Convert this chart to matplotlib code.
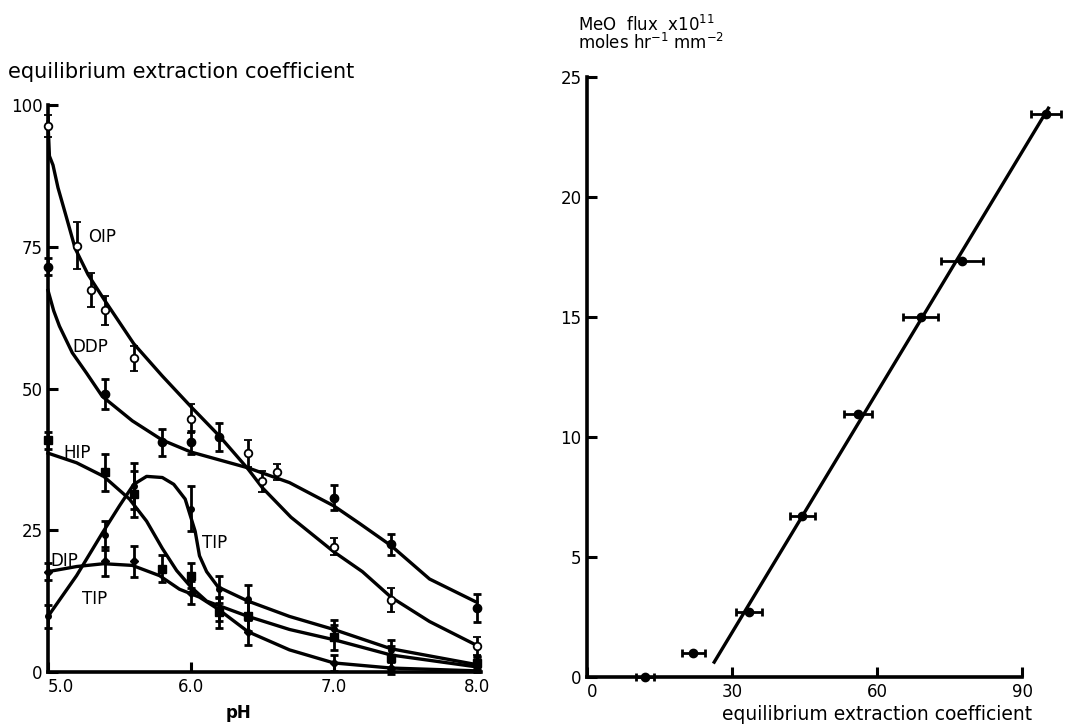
import matplotlib
matplotlib.use("Agg")
import matplotlib.pyplot as plt

plt.rcParams['font.family'] = ['DejaVu Sans']

# ---------------- left panel data (pH vs equilibrium extraction coefficient) -------------
ph_oip = [5.0, 5.2, 5.3, 5.4, 5.6, 6.0, 6.4, 6.5, 6.6, 7.0, 7.4, 8.0]
oip = [96.3, 75.2, 67.3, 63.8, 55.3, 44.7, 38.6, 33.6, 35.3, 22.1, 12.7, 4.6]
oip_err = [2.0, 4.2, 3.0, 2.6, 2.2, 2.5, 2.4, 1.8, 1.4, 1.5, 2.1, 1.6]
ph_oip_c = [5.0, 5.01, 5.035, 5.07, 5.13, 5.19, 5.28, 5.39, 5.6, 5.8, 6.0, 6.2, 6.4, 6.5,
            6.7, 7.0, 7.2, 7.4, 7.67, 8.0]
oip_c = [97, 91, 89.4, 85.4, 80.1, 74.7, 70.1, 65.8, 57.9, 52.2, 46.8, 41.6, 35.8, 32.5,
         27.3, 21.2, 17.7, 13.2, 8.9, 4.7]

ph_ddp = [5.0, 5.4, 5.8, 6.0, 6.2, 7.0, 7.4, 8.0]
ddp = [71.5, 49.0, 40.5, 40.5, 41.4, 30.7, 22.5, 11.3]
ddp_err = [1.5, 2.6, 2.4, 2.0, 2.5, 2.2, 1.8, 2.4]
ph_ddp_c = [5.0, 5.04, 5.08, 5.17, 5.27, 5.38, 5.59, 5.8, 6.0, 6.4, 6.69, 7.0, 7.18, 7.4,
            7.67, 8.0]
ddp_c = [67.3, 63.7, 61.0, 56.3, 52.7, 48.6, 44.3, 40.9, 38.8, 36.0, 33.4, 29.3, 26.2,
         22.3, 16.4, 12.3]

ph_hip = [5.0, 5.4, 5.6, 5.8, 6.0, 6.2, 6.4, 7.0, 7.4, 8.0]
hip = [40.9, 35.2, 31.4, 18.2, 17.0, 10.5, 9.8, 6.1, 2.5, 1.6]
hip_err = [1.5, 3.3, 4.0, 2.4, 2.2, 2.7, 2.5, 2.2, 2.0, 1.2]
ph_hip_c = [5.0, 5.2, 5.39, 5.57, 5.69, 5.8, 5.9, 6.0, 6.11, 6.4, 6.69, 7.0, 7.4, 8.0]
hip_c = [38.6, 36.9, 34.5, 30.5, 26.6, 21.8, 17.9, 15.0, 12.5, 9.8, 7.5, 5.7, 3.0, 0.9]

ph_dip = [5.0, 5.4, 5.6, 6.0, 6.2, 6.4, 7.0, 7.4, 8.0]
dip = [17.7, 19.5, 19.5, 14.0, 11.0, 7.0, 1.6, 0.7, 0.8]
dip_err = [1.5, 2.6, 2.8, 2.0, 2.0, 2.2, 1.4, 1.0, 0.8]
ph_dip_c = [5.0, 5.2, 5.39, 5.59, 5.78, 5.92, 6.06, 6.19, 6.4, 6.69, 7.0, 7.4, 8.0]
dip_c = [17.7, 18.6, 19.1, 18.8, 17.0, 14.6, 13.2, 11.1, 7.1, 3.9, 1.6, 0.7, 0.2]

ph_tip = [5.0, 5.4, 5.6, 6.0, 6.2, 6.4, 7.0, 7.4, 8.0]
tip = [9.8, 24.1, 32.8, 28.8, 14.6, 12.9, 7.5, 3.9, 1.5]
tip_err = [2.0, 2.5, 4.0, 4.0, 2.4, 2.5, 1.6, 1.8, 1.2]
ph_tip_c = [5.0, 5.2, 5.38, 5.5, 5.6, 5.69, 5.8, 5.88, 5.96, 6.03, 6.06, 6.11, 6.19, 6.4,
            6.69, 7.0, 7.4, 8.0]
tip_c = [9.8, 17.0, 24.5, 29.3, 33.1, 34.5, 34.3, 33.1, 30.5, 24.8, 20.5, 17.7, 15.0, 12.5,
         9.8, 7.5, 4.1, 1.3]

left_xticks = [5.0, 6.0, 7.0, 8.0]
left_xticklabels = ['5.0', '6.0', '7.0', '8.0']
left_yticks = [0, 25, 50, 75, 100]
left_yticklabels = ['0', '25', '50', '75', '100']

# ---------------- right panel data (extraction coefficient vs MeO flux) ------------------
eec = [12, 22, 33.5, 44.5, 56, 69, 77.5, 94.8]
flux = [0.0, 1.0, 2.7, 6.7, 10.95, 15.0, 17.35, 23.45]
eec_err = [1.8, 2.4, 2.7, 2.6, 2.9, 3.6, 4.4, 3.1]
fit_x = [26.3, 95.4]
fit_y = [0.62, 23.7]
right_xticks = [0, 30, 60, 90]
right_xticklabels = ['0', '30', '60', '90']
right_yticks = [0, 5, 10, 15, 20, 25]
right_yticklabels = ['0', '5', '10', '15', '20', '25']

W, H = 1070, 728
fig = plt.figure(figsize=(W / 100, H / 100), dpi=100)
fig.patch.set_facecolor('white')

LW = 2.4
eb_kw = dict(color='black', ecolor='black', elinewidth=2.0, capsize=3, capthick=2.0,
             linestyle='none', clip_on=False, zorder=4)

# ---------------- left axes ----------------
axL = fig.add_axes([48 / W, 1 - 672 / H, 443 / W, 567 / H])
axL.set_xlim(5.0, 8.1)
axL.set_ylim(0, 100)

for xs, ys in [(ph_oip_c, oip_c), (ph_ddp_c, ddp_c), (ph_hip_c, hip_c),
               (ph_dip_c, dip_c), (ph_tip_c, tip_c)]:
    axL.plot(xs, ys, color='black', lw=LW, solid_joinstyle='round', zorder=3, clip_on=False)

axL.errorbar(ph_oip, oip, yerr=oip_err, fmt='o', ms=5.5, mfc='white', mec='black', mew=1.3, **eb_kw)
axL.errorbar(ph_ddp, ddp, yerr=ddp_err, fmt='o', ms=6, mfc='black', mec='black', **eb_kw)
axL.errorbar(ph_hip, hip, yerr=hip_err, fmt='s', ms=5.5, mfc='black', mec='black', **eb_kw)
axL.errorbar(ph_dip, dip, yerr=dip_err, fmt='D', ms=4, mfc='black', mec='black', **eb_kw)
axL.errorbar(ph_tip, tip, yerr=tip_err, fmt='o', ms=4, mfc='black', mec='black', **eb_kw)

lab_kw = dict(fontsize=12, color='black', va='center', ha='left', zorder=6)
axL.text(5.28, 76.7, 'OIP', **lab_kw)
axL.text(5.17, 57.4, 'DDP', **lab_kw)
axL.text(5.11, 38.6, 'HIP', **lab_kw)
axL.text(5.02, 19.5, 'DIP', **lab_kw)
axL.text(5.24, 12.9, 'TIP', **lab_kw)
axL.text(6.08, 22.7, 'TIP', **lab_kw)

axL.set_xticks(left_xticks)
axL.set_xticklabels(left_xticklabels)
axL.get_xticklabels()[0].set_ha('left')
axL.set_yticks(left_yticks)
axL.set_yticklabels(left_yticklabels)
axL.tick_params(direction='in', length=7, width=2.2, labelsize=12, pad=4)
for s in ['top', 'right']:
    axL.spines[s].set_visible(False)
axL.spines['left'].set_linewidth(2.6)
axL.spines['bottom'].set_linewidth(2.6)
axL.spines['left'].set_bounds(0, 100)
axL.spines['bottom'].set_bounds(5.0, 8.03)
axL.set_xlabel('pH', fontsize=12, fontweight='bold')
axL.xaxis.set_label_coords(0.431, -(713 - 672) / 567)
axL.xaxis.label.set_va('center')
fig.text(8 / W, 1 - 72 / H, 'equilibrium extraction coefficient', fontsize=15,
         ha='left', va='center')

# ---------------- right axes ----------------
axR = fig.add_axes([587 / W, 1 - 677 / H, 474 / W, 600 / H])
axR.set_xlim(0, 98)
axR.set_ylim(0, 25)
axR.plot(fit_x, fit_y, color='black', lw=LW, zorder=3)
axR.errorbar(eec, flux, xerr=eec_err, fmt='o', ms=6, mfc='black', mec='black', **eb_kw)
axR.set_xticks(right_xticks)
axR.set_xticklabels(right_xticklabels)
axR.get_xticklabels()[0].set_ha('left')
axR.set_yticks(right_yticks)
axR.set_yticklabels(right_yticklabels)
axR.tick_params(direction='in', length=7, width=2.2, labelsize=12, pad=4)
for s in ['top', 'right']:
    axR.spines[s].set_visible(False)
axR.spines['left'].set_linewidth(2.6)
axR.spines['bottom'].set_linewidth(2.6)
axR.spines['left'].set_bounds(0, 25)
axR.spines['bottom'].set_bounds(0, 90)
axR.set_xlabel('equilibrium extraction coefficient', fontsize=13.5)
axR.xaxis.set_label_coords((1032 - 587) / 474, -(714 - 677) / 600)
axR.xaxis.label.set_ha('right')
axR.xaxis.label.set_va('center')
fig.text(578 / W, 1 - 25 / H, r'MeO  flux  x10$^{11}$', fontsize=12, ha='left', va='center')
fig.text(578 / W, 1 - 43 / H, r'moles hr$^{-1}$ mm$^{-2}$', fontsize=12, ha='left', va='center')

fig.savefig('out.png', dpi=100, facecolor='white')
